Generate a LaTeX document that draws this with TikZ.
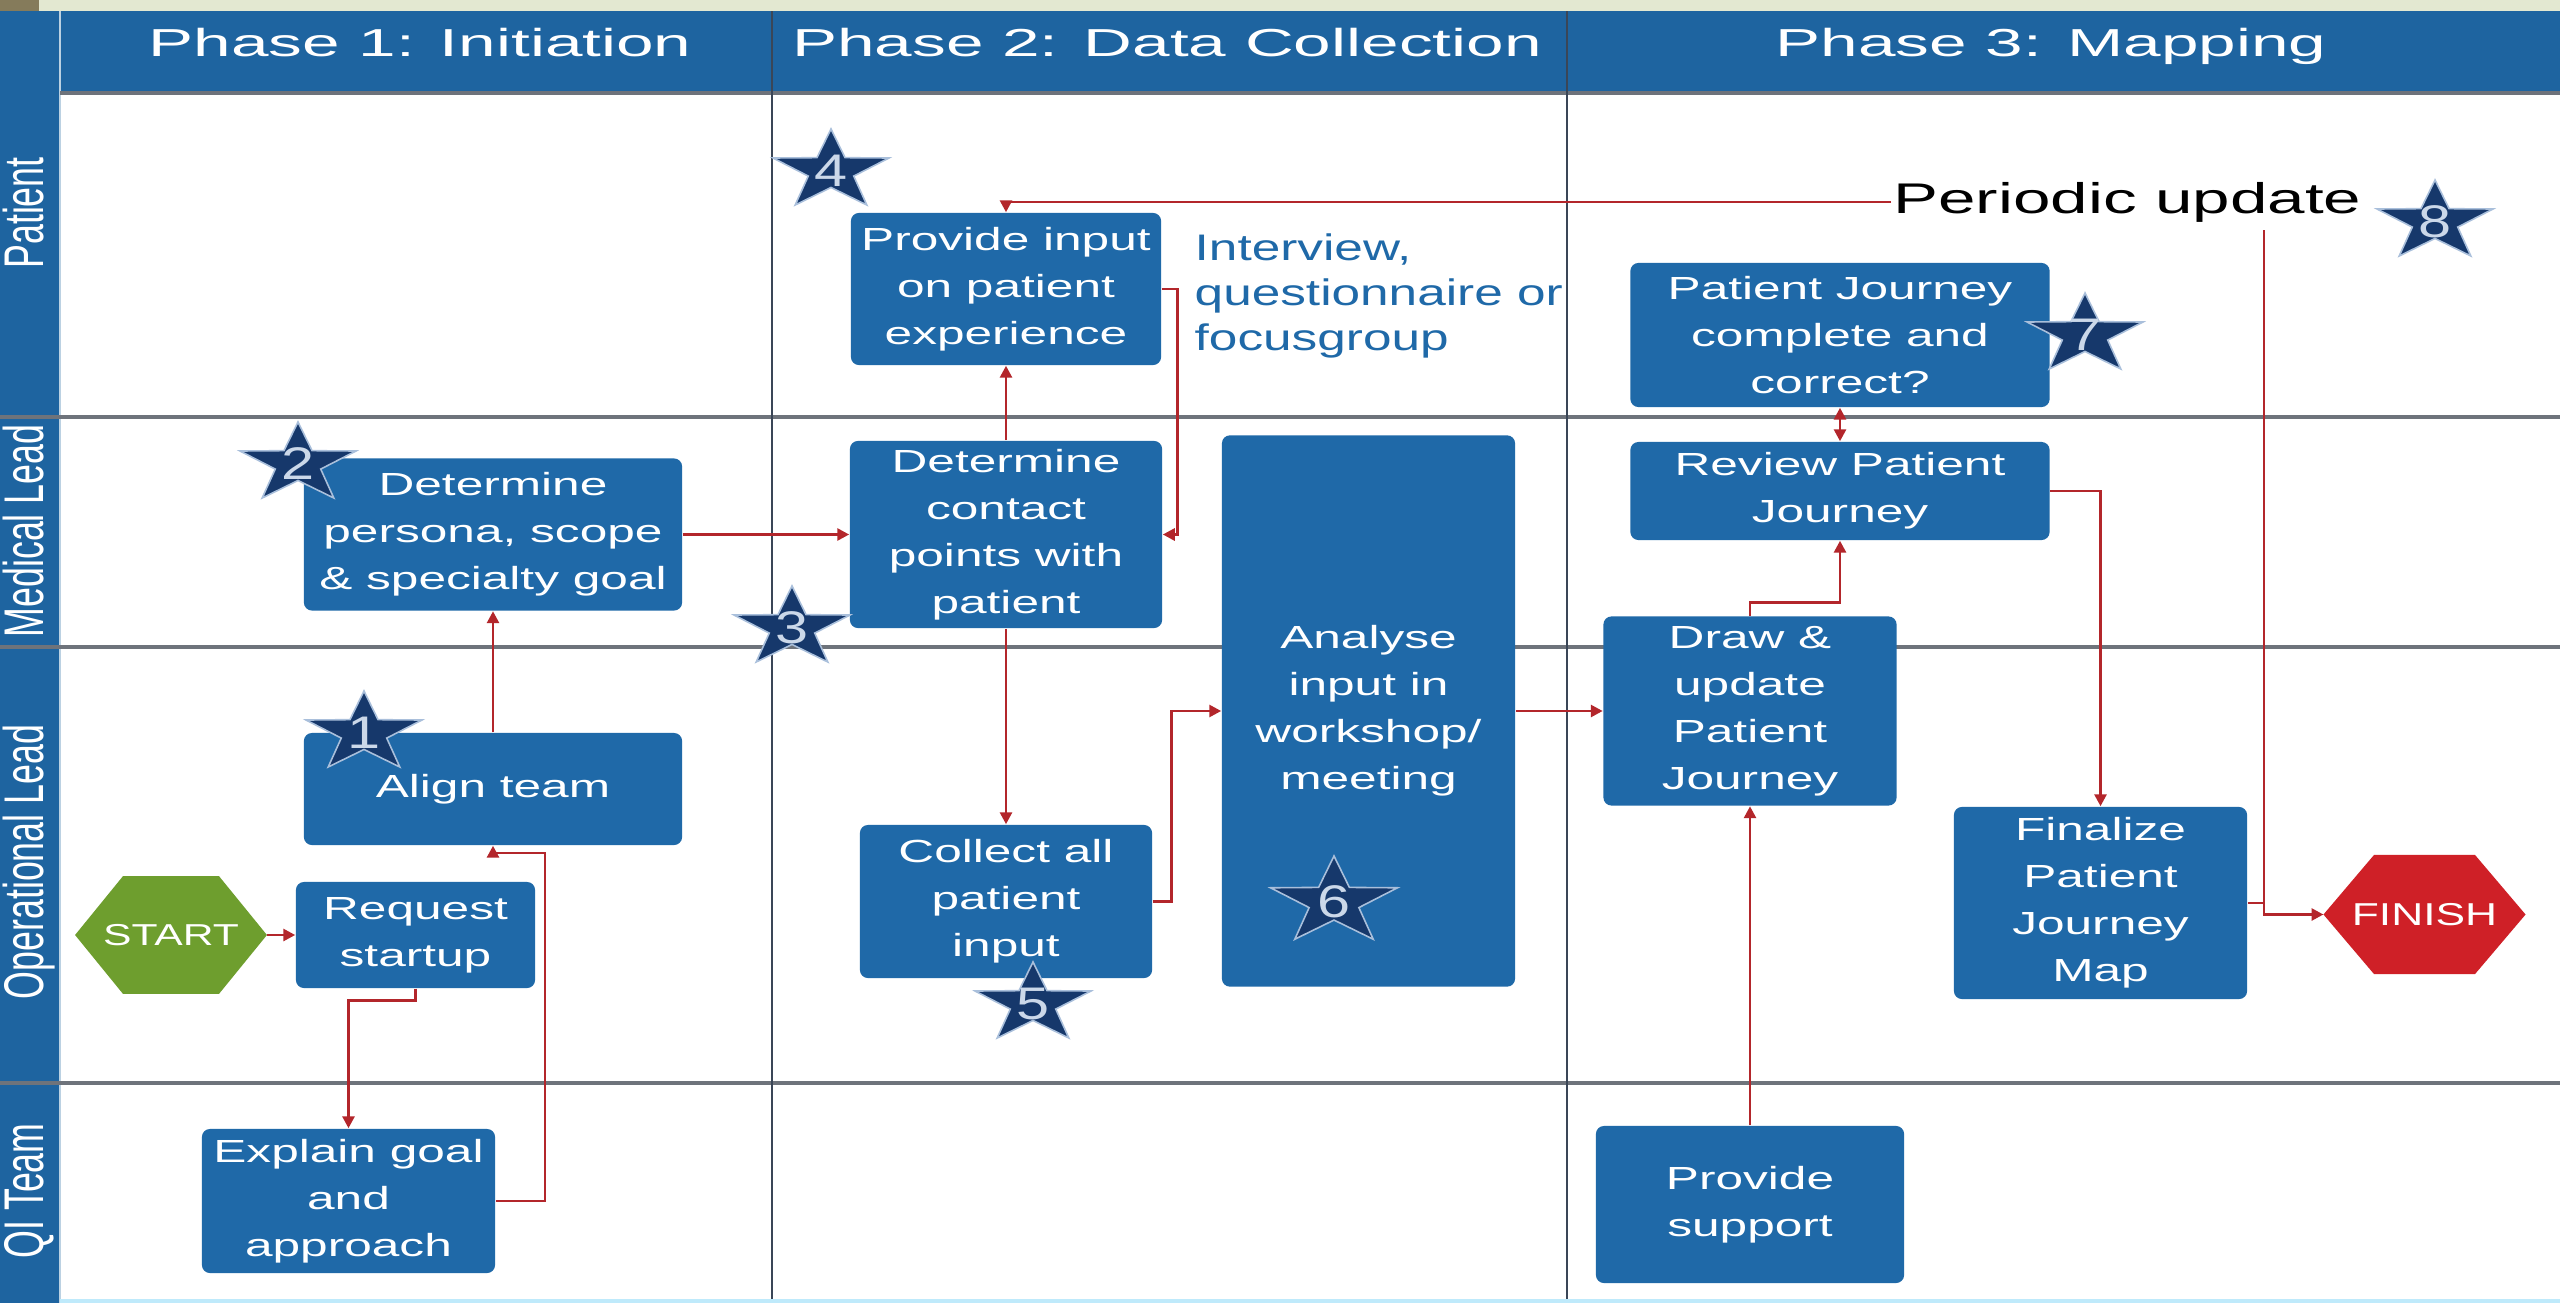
\documentclass[tikz,border=0pt]{standalone}
\usepackage{fontspec}
\setmainfont{Liberation Sans}
\newfontfamily\boxfont{Liberation Sans}[FakeStretch=1.55]
\newfontfamily\notefont{Liberation Sans}[FakeStretch=1.39]
\newfontfamily\headfont{Liberation Sans}[FakeStretch=1.73]
\newfontfamily\perfont{Liberation Sans}[FakeStretch=1.57]
\newfontfamily\lanefont{Liberation Sans}[FakeStretch=0.64]
\usetikzlibrary{shapes.geometric, arrows.meta, calc}
\definecolor{hdrblue}{HTML}{1E64A0}
\definecolor{boxblue}{HTML}{1F69A8}
\definecolor{linered}{HTML}{B3262B}
\definecolor{starnavy}{HTML}{16386B}
\definecolor{starrim}{HTML}{A9BFDB}
\definecolor{startgreen}{HTML}{6E9E2E}
\definecolor{finishred}{HTML}{CF2027}
\definecolor{topband}{HTML}{E3E8D1}
\definecolor{brownsq}{HTML}{857B5B}
\definecolor{lanerule}{HTML}{6E737B}
\definecolor{divider}{HTML}{3A4657}
\tikzset{
  box/.style={fill=boxblue, rounded corners=0.8mm, text=white, align=center, inner sep=0pt,
    font=\boxfont\fontsize{9.1}{13.4}\selectfont},
  conn/.style={draw=linered, line width=0.8pt, -{Triangle[length=3.4pt,width=3.4pt]}},
  conn2/.style={draw=linered, line width=0.8pt, {Triangle[length=3.4pt,width=3.4pt]}-{Triangle[length=3.4pt,width=3.4pt]}},
  wire/.style={draw=linered, line width=0.8pt},
  starnode/.style={star, star points=5, star point ratio=2.55, minimum size=0.84cm, inner sep=0pt,
    fill=starnavy, draw=starrim, line width=0.45pt, xscale=1.45},
  digit/.style={inner sep=0pt, text=starrim!60!white, xscale=1.3, font=\fontsize{13}{13}\selectfont},
  lane/.style={rotate=90, anchor=base, text=white, inner sep=0pt, font=\lanefont\fontsize{15.9}{16}\selectfont},
  phase/.style={anchor=base, text=white, inner sep=0pt, font=\headfont\fontsize{11.1}{12}\selectfont},
  hexa/.style={regular polygon, regular polygon sides=6, inner sep=0pt, outer sep=0pt},
  hexlabel/.style={inner sep=0pt, text=white},
  lanerulestyle/.style={draw=lanerule, line width=1pt},
  dividerstyle/.style={draw=divider, line width=0.7pt},
}
\begin{document}
\begin{tikzpicture}[x=0.01cm, y=-0.01cm]
\useasboundingbox (0,0) rectangle (2560,1303);
% background and frame
\fill[white] (0,0) rectangle (2560,1303);
\fill[topband] (0,0) rectangle (2560,11);
\fill[brownsq] (0,0) rectangle (39,11);
\fill[hdrblue] (0,11) rectangle (2560,93);
\fill[hdrblue] (0,11) rectangle (60,1303);
\draw[white!70!hdrblue, line width=0.5pt] (60,11) -- (60,1303);
\draw[lanerulestyle] (60,93) -- (2560,93);
\foreach \yy in {417,647,1083} \draw[lanerulestyle] (0,\yy) -- (2560,\yy);
\foreach \xx in {772,1567} \draw[dividerstyle] (\xx,11) -- (\xx,1303);
\draw[cyan!25, line width=1pt] (60,1301) -- (2560,1301);

% headers
\node[phase] (ph1) at (420,56) {Phase 1: Initiation};
\node[phase] (ph2) at (1167,56) {Phase 2: Data Collection};
\node[phase] (ph3) at (2051,56) {Phase 3: Mapping};

% lane labels
\node[lane] (lpat) at (43,213) {Patient};
\node[lane] (lmed) at (43,531) {Medical Lead};
\node[lane] (lop) at (43,862) {Operational Lead};
\node[lane] (lqi) at (43,1191) {QI Team};

% boxes
\node[box, minimum width=3.78cm, minimum height=1.52cm] (persona) at (493,534.5) {Determine\\persona, scope\\\& specialty goal};
\node[box, minimum width=3.78cm, minimum height=1.12cm] (align) at (493,789) {Align team};
\node[box, minimum width=2.39cm, minimum height=1.06cm] (request) at (415.5,935) {Request\\startup};
\node[box, minimum width=2.93cm, minimum height=1.44cm] (explain) at (348.5,1201) {Explain goal\\and\\approach};
\node[box, minimum width=3.10cm, minimum height=1.52cm] (provide) at (1006,289) {Provide input\\on patient\\experience};
\node[box, minimum width=3.12cm, minimum height=1.87cm] (contact) at (1006,534.5) {Determine\\contact\\points with\\patient};
\node[box, minimum width=2.92cm, minimum height=1.53cm] (collect) at (1006,901.5) {Collect all\\patient\\input};
\node[box, minimum width=2.93cm, minimum height=5.51cm] (analyse) at (1368.5,711) {Analyse\\input in\\workshop/\\meeting};
\node[box, minimum width=4.19cm, minimum height=1.44cm] (complete) at (1840,335) {Patient Journey\\complete and\\correct?};
\node[box, minimum width=4.19cm, minimum height=0.98cm] (review) at (1840,491) {Review Patient\\Journey};
\node[box, minimum width=2.93cm, minimum height=1.89cm] (draw) at (1750,711) {Draw \&\\update\\Patient\\Journey};
\node[box, minimum width=2.93cm, minimum height=1.92cm] (finalize) at (2100.5,903) {Finalize\\Patient\\Journey\\Map};
\node[box, minimum width=3.08cm, minimum height=1.57cm] (support) at (1750,1204.5) {Provide\\support};

% terminals
\node[hexa, minimum size=1.36cm, fill=startgreen, xscale=1.41] (start) at (171,935) {};
\node[hexlabel, xscale=1.41, font=\fontsize{8.6}{9}\selectfont] (startlbl) at (start) {START};
\node[hexa, minimum size=1.374cm, fill=finishred, xscale=1.47] (finish) at (2424.5,914.5) {};
\node[hexlabel, xscale=1.4, font=\fontsize{9}{9}\selectfont] (finishlbl) at (finish) {FINISH};

% free texts
\node[anchor=north west, align=left, inner sep=0pt, text=boxblue,
  font=\notefont\fontsize{10.5}{12.8}\selectfont] (note) at (1194,233) {Interview,\\questionnaire or\\focusgroup};
\node[anchor=base west, inner xsep=0.5pt, inner ysep=2pt,
  font=\perfont\fontsize{12.2}{14}\selectfont] (periodic) at (1891,213) {Periodic update};

% connectors
\draw[conn] (start.east) -- (request.west);
\draw[conn] (request.south) -- ++(0,12) -| (explain.north);
\coordinate (loop) at (545,853);
\draw[conn] (explain.east) -| (loop) -| (align.south);
\draw[conn] (align.north) -- (persona.south);
\draw[conn] (persona.east) -- (contact.west);
\draw[conn] (contact.north) -- (provide.south);
\draw[conn] (provide.east) -- ++(16,0) |- (contact.east);
\draw[conn] (contact.south) -- (collect.north);
\draw[conn] (collect.east) -- ++(19,0) |- (analyse.west);
\draw[conn] (analyse.east) -- (draw.west);
\draw[conn] (support.north) -- (draw.south);
\draw[conn] (draw.north) -- ++(0,-13) -| (review.south);
\draw[conn2] (complete.south) -- (review.north);
\draw[conn] (review.east) -| (finalize.north);
\coordinate (jn) at (2264,903);
\draw[conn] (finalize.east) -- (jn) |- (finish.west);
\draw[wire] (jn) -- (jn |- periodic.south);
\draw[conn] (periodic.west) -| (provide.north);

% stars
\node[starnode] (s1) at (364,733) {};
\node[starnode] (s2) at (298,464) {};
\node[starnode] (s3) at (792,628) {};
\node[starnode] (s4) at (831,171) {};
\node[starnode] (s5) at (1033,1004) {};
\node[starnode, minimum size=0.92cm] (s6) at (1334,902) {};
\node[starnode] (s7) at (2085,335) {};
\node[starnode] (s8) at (2435,222) {};
\node[digit] (d1) at (s1) {1};
\node[digit] (d2) at (s2) {2};
\node[digit] (d3) at (s3) {3};
\node[digit] (d4) at (s4) {4};
\node[digit] (d5) at (s5) {5};
\node[digit] (d6) at (s6) {6};
\node[digit] (d7) at (s7) {7};
\node[digit] (d8) at (s8) {8};
\end{tikzpicture}
\end{document}
